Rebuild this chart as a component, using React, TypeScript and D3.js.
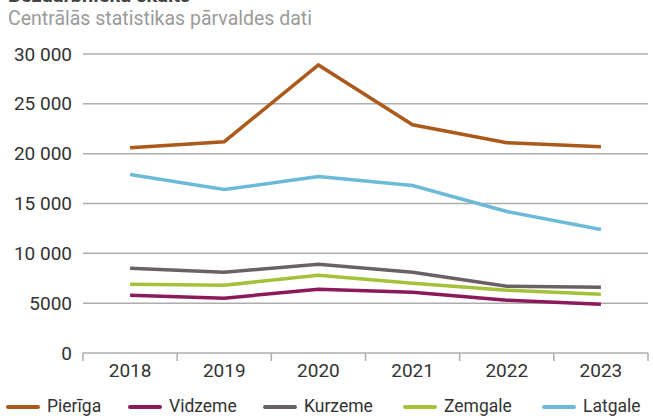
import React, { useEffect, useRef } from "react";
import * as d3 from "d3";

const years = ["2018", "2019", "2020", "2021", "2022", "2023"];
const pieriga = [20600, 21200, 28900, 22900, 21100, 20700];
const vidzeme = [5800, 5500, 6400, 6100, 5300, 4900];
const kurzeme = [8500, 8100, 8900, 8100, 6700, 6600];
const zemgale = [6900, 6800, 7800, 7000, 6300, 5900];
const latgale = [17900, 16400, 17700, 16800, 14200, 12400];
const yTicks = [0, 5000, 10000, 15000, 20000, 25000, 30000];

const seriesList = [
  { name: "Pierīga", color: "#ab5a1c", values: pieriga },
  { name: "Vidzeme", color: "#8c1a5b", values: vidzeme },
  { name: "Kurzeme", color: "#6b6067", values: kurzeme },
  { name: "Zemgale", color: "#a3c23a", values: zemgale },
  { name: "Latgale", color: "#6bbad8", values: latgale },
];

const FONT = "Roboto, 'Noto Sans', sans-serif";

// latviešu formāts: 5000, bet 10 000
const fmt = (v: number) => (v >= 10000 ? d3.format(",")(v).replace(/,/g, " ") : String(v));

export default function App() {
  const ref = useRef<SVGSVGElement>(null);

  useEffect(() => {
    const svg = d3.select(ref.current);
    svg.selectAll("*").remove();

    const width = 653;
    const height = 416;
    const margin = { left: 83, right: 5, top: 54, bottom: 63 };

    const x = d3
      .scaleBand()
      .domain(years)
      .range([margin.left, width - margin.right])
      .padding(0);

    const y = d3
      .scaleLinear()
      .domain([0, 30000])
      .range([height - margin.bottom, margin.top]);

    // virsraksts (augšā nogriezts)
    svg.append("text")
      .attr("x", 8)
      .attr("y", 2)
      .attr("font-family", FONT)
      .attr("font-weight", 700)
      .attr("font-size", 20)
      .attr("fill", "#444")
      .text("Bezdarbnieku skaits");

    svg.append("text")
      .attr("x", 8)
      .attr("y", 25)
      .attr("font-family", FONT)
      .attr("font-size", 19.5)
      .attr("fill", "#9a9a9a")
      .text("Centrālās statistikas pārvaldes dati");

    // režģis
    svg.append("g")
      .selectAll("line")
      .data(yTicks.filter(d => d > 0))
      .join("line")
      .attr("x1", margin.left)
      .attr("x2", width - margin.right)
      .attr("y1", d => y(d))
      .attr("y2", d => y(d))
      .attr("stroke", "#adadad")
      .attr("stroke-width", 1.5);

    svg.append("g")
      .selectAll("text")
      .data(yTicks)
      .join("text")
      .attr("x", 72)
      .attr("y", d => y(d))
      .attr("dy", "0.35em")
      .attr("text-anchor", "end")
      .attr("font-family", FONT)
      .attr("font-size", 19)
      .attr("fill", "#333")
      .text(d => fmt(d));

    // x ass
    const x0 = y(0);
    svg.append("line")
      .attr("x1", margin.left)
      .attr("x2", width - margin.right)
      .attr("y1", x0)
      .attr("y2", x0)
      .attr("stroke", "#adadad")
      .attr("stroke-width", 1.5);

    const bounds = years.map(d => x(d) as number).concat([width - margin.right]);
    svg.append("g")
      .selectAll("line")
      .data(bounds)
      .join("line")
      .attr("x1", d => d)
      .attr("x2", d => d)
      .attr("y1", x0)
      .attr("y2", x0 + 8)
      .attr("stroke", "#adadad")
      .attr("stroke-width", 1.5);

    svg.append("g")
      .selectAll("text")
      .data(years)
      .join("text")
      .attr("x", d => (x(d) as number) + x.bandwidth() / 2)
      .attr("y", x0 + 24)
      .attr("text-anchor", "middle")
      .attr("font-family", FONT)
      .attr("font-size", 19)
      .attr("fill", "#333")
      .text(d => d);

    // līnijas
    const line = d3
      .line<number>()
      .x((_, i) => (x(years[i]) as number) + x.bandwidth() / 2)
      .y(d => y(d));

    svg.append("g")
      .selectAll("path")
      .data(seriesList)
      .join("path")
      .attr("d", s => line(s.values))
      .attr("fill", "none")
      .attr("stroke", s => s.color)
      .attr("stroke-width", 3.5)
      .attr("stroke-linejoin", "miter");

    // leģenda
    const legendX = [8, 130, 265, 405, 544];
    const lg = svg.append("g")
      .selectAll("g")
      .data(seriesList)
      .join("g")
      .attr("transform", (_, i) => `translate(${legendX[i]},407)`);

    lg.append("line")
      .attr("x1", 0)
      .attr("x2", 30)
      .attr("stroke", s => s.color)
      .attr("stroke-width", 4)
      .attr("stroke-linecap", "round");

    lg.append("text")
      .attr("x", 39)
      .attr("y", 5)
      .attr("font-family", FONT)
      .attr("font-size", 17.5)
      .attr("fill", "#333")
      .text(s => s.name);
  }, []);

  return (
    <svg
      ref={ref}
      width={653}
      height={416}
      style={{ position: "absolute", left: 0, top: 0 }}
    ></svg>
  );
}
